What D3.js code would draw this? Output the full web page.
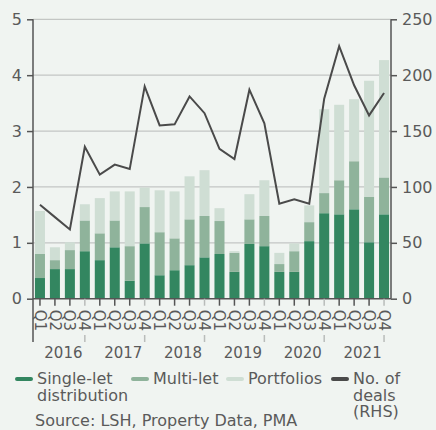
<!DOCTYPE html>
<html>
<head>
<meta charset="utf-8">
<script src="https://cdn.jsdelivr.net/npm/d3@7"></script>
<style>
  body { margin: 0; background: #f0f4f1; }
  svg text { font-family: "DejaVu Sans", Inter, sans-serif; fill: #5a5a5a; }
</style>
</head>
<body>
<div id="chart"></div>
<script>
// values, 2016 Q1 .. 2021 Q4
var years = ["2016", "2017", "2018", "2019", "2020", "2021"];
var quarters = ["Q1", "Q2", "Q3", "Q4"];
var singleLet = [0.37, 0.53, 0.53, 0.85, 0.69, 0.92, 0.32, 0.99, 0.42, 0.51, 0.60, 0.74,
                 0.80, 0.48, 0.98, 0.94, 0.48, 0.48, 1.03, 1.53, 1.51, 1.60, 1.01, 1.51];
var multiLet = [0.43, 0.16, 0.34, 0.55, 0.48, 0.48, 0.62, 0.65, 0.77, 0.57, 0.82, 0.74,
                0.59, 0.34, 0.44, 0.54, 0.14, 0.37, 0.34, 0.36, 0.61, 0.86, 0.81, 0.66];
var portfolios = [0.77, 0.23, 0.14, 0.29, 0.63, 0.52, 0.98, 0.35, 0.75, 0.84, 0.77, 0.82,
                  0.23, 0.03, 0.45, 0.64, 0.20, 0.14, 0.30, 1.50, 1.35, 1.11, 2.08, 2.10];
var deals = [84, 73, 62, 136, 111, 120, 116, 190, 155, 156, 181, 166,
             134, 125, 187, 157, 85, 89, 85, 179, 226, 191, 164, 184];
var leftTicks = [0, 1, 2, 3, 4, 5];
var rightTicks = [0, 50, 100, 150, 200, 250];

var seriesKeys = ["single", "multi", "port"];
var colours = {single: "#338660", multi: "#8fb39b", port: "#cfded4"};

var W = 436, H = 430;
var plotL = 33, plotR = 391, plotT = 19.3, plotB = 298.7;
var fs = 16;

var periods = [];
years.forEach(function(y) { quarters.forEach(function(q) { periods.push(y + q); }); });

var rows = periods.map(function(p, i) {
  return {period: p, q: quarters[i % 4], single: singleLet[i], multi: multiLet[i], port: portfolios[i], deals: deals[i]};
});

var svg = d3.select("#chart").append("svg").attr("width", W).attr("height", H);
svg.append("rect").attr("width", W).attr("height", H).attr("fill", "#f0f4f1");

var x = d3.scaleBand().domain(periods).range([plotL, plotR]).paddingInner(0.33).paddingOuter(0.13);
var y = d3.scaleLinear().domain([0, 5]).range([plotB, plotT]);
var y2 = d3.scaleLinear().domain([0, 250]).range([plotB, plotT]);

// gridlines
svg.append("g").selectAll("line").data(leftTicks.slice(1)).enter().append("line")
  .attr("x1", plotL).attr("x2", plotR)
  .attr("y1", function(d) { return y(d); }).attr("y2", function(d) { return y(d); })
  .attr("stroke", "#c3c6c4").attr("stroke-width", 1.2);

// stacked bars
var stack = d3.stack().keys(seriesKeys)(rows);
svg.append("g").selectAll("g").data(stack).enter().append("g")
  .attr("fill", function(s) { return colours[s.key]; })
  .selectAll("rect").data(function(s) { return s; }).enter().append("rect")
  .attr("x", function(d) { return x(d.data.period); })
  .attr("width", x.bandwidth())
  .attr("y", function(d) { return y(d[1]); })
  .attr("height", function(d) { return y(d[0]) - y(d[1]); });

// deals line
var line = d3.line()
  .x(function(d) { return x(d.period) + x.bandwidth() / 2; })
  .y(function(d) { return y2(d.deals); });
svg.append("path").datum(rows).attr("d", line)
  .attr("fill", "none").attr("stroke", "#4a4a4a").attr("stroke-width", 2);

// left axis
var gl = svg.append("g").attr("transform", "translate(" + plotL + ",0)")
  .call(d3.axisLeft(y).tickValues(leftTicks).tickSize(6).tickPadding(5).tickFormat(d3.format("d")));
gl.select(".domain").remove();
gl.selectAll(".tick line").attr("stroke", "#555").attr("stroke-width", 1.5);
gl.selectAll("text").attr("font-size", fs).attr("fill", "#5a5a5a");
svg.append("line").attr("x1", plotL).attr("x2", plotL).attr("y1", plotT).attr("y2", 342)
  .attr("stroke", "#555").attr("stroke-width", 1.5);

// right axis
var gr = svg.append("g").attr("transform", "translate(" + plotR + ",0)")
  .call(d3.axisRight(y2).tickValues(rightTicks).tickSize(6).tickPadding(5));
gr.select(".domain").attr("stroke", "#555").attr("stroke-width", 1.5).attr("d", "M0," + plotT + "V" + plotB);
gr.selectAll(".tick line").attr("stroke", "#555").attr("stroke-width", 1.5);
gr.selectAll("text").attr("font-size", fs).attr("fill", "#5a5a5a");

// x axis
var gx = svg.append("g").attr("transform", "translate(0," + plotB + ")")
  .call(d3.axisBottom(x).tickSize(7).tickFormat(function(d) { return d.slice(4); }));
gx.select(".domain").attr("stroke", "#555").attr("stroke-width", 1.5).attr("d", "M" + plotL + ",0H" + plotR);
gx.selectAll(".tick line").attr("stroke", function(d) { return d.slice(4) === "Q4" ? "#b9bcba" : "#555"; })
  .attr("stroke-width", 1.5);
gx.selectAll(".tick text")
  .attr("font-size", fs - 1).attr("fill", "#5a5a5a")
  .attr("text-anchor", "start")
  .attr("transform", "translate(0,11) rotate(90)")
  .attr("x", 0).attr("y", 0).attr("dy", "0.36em");

// year separators and labels
svg.append("g").selectAll("line").data(years).enter().append("line")
  .attr("x1", function(d) { return x(d + "Q4") + x.bandwidth() / 2; })
  .attr("x2", function(d) { return x(d + "Q4") + x.bandwidth() / 2; })
  .attr("y1", 335).attr("y2", 342)
  .attr("stroke", "#b9bcba").attr("stroke-width", 1.5);
svg.append("g").selectAll("text").data(years).enter().append("text")
  .attr("x", function(d) { return (x(d + "Q1") + x(d + "Q4") + x.bandwidth()) / 2 + 1; })
  .attr("y", 358).attr("text-anchor", "middle").attr("font-size", fs - 1)
  .text(function(d) { return d; });

// legend
var legend = [
  {lines: ["Single-let", "distribution"], colour: colours.single, x: 17},
  {lines: ["Multi-let"], colour: colours.multi, x: 133},
  {lines: ["Portfolios"], colour: colours.port, x: 228},
  {lines: ["No. of", "deals", "(RHS)"], colour: "#4a4a4a", x: 333}
];
var lg = svg.append("g").selectAll("g").data(legend).enter().append("g")
  .attr("transform", function(d) { return "translate(" + d.x + ",379)"; });
lg.append("line").attr("x1", 0).attr("x2", 14).attr("y1", 0).attr("y2", 0)
  .attr("stroke", function(d) { return d.colour; }).attr("stroke-width", 4).attr("stroke-linecap", "round");
lg.append("text").attr("x", 20).attr("y", 5).attr("font-size", fs)
  .selectAll("tspan").data(function(d) { return d.lines; }).enter().append("tspan")
  .attr("x", 20).attr("dy", function(d, i) { return i ? 16.5 : 0; })
  .text(function(d) { return d; });

svg.append("text").attr("x", 35).attr("y", 426).attr("font-size", fs)
  .text("Source: LSH, Property Data, PMA");
</script>
</body>
</html>
